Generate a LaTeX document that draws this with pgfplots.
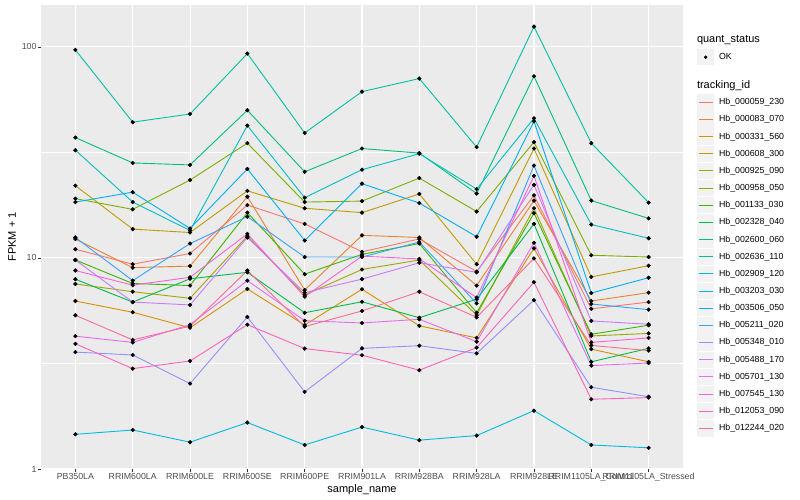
\documentclass[border=0pt]{standalone}
\usepackage{fontspec}
\setmainfont{Liberation Sans}
\usepackage{pgfplots}
\usepackage{pgfplotstable}
\pgfplotsset{compat=1.18}
\definecolor{ggbg}{HTML}{EBEBEB}
\definecolor{ggkey}{HTML}{F2F2F2}
\definecolor{ggtick}{HTML}{4D4D4D}
\definecolor{c1}{HTML}{F8766D}
\definecolor{c2}{HTML}{EA8331}
\definecolor{c3}{HTML}{D89000}
\definecolor{c4}{HTML}{C09B00}
\definecolor{c5}{HTML}{A3A500}
\definecolor{c6}{HTML}{7CAE00}
\definecolor{c7}{HTML}{39B600}
\definecolor{c8}{HTML}{00BB4E}
\definecolor{c9}{HTML}{00BF7D}
\definecolor{c10}{HTML}{00C1A3}
\definecolor{c11}{HTML}{00BFC4}
\definecolor{c12}{HTML}{00BAE0}
\definecolor{c13}{HTML}{00B0F6}
\definecolor{c14}{HTML}{35A2FF}
\definecolor{c15}{HTML}{9590FF}
\definecolor{c16}{HTML}{C77CFF}
\definecolor{c17}{HTML}{E76BF3}
\definecolor{c18}{HTML}{FA62DB}
\definecolor{c19}{HTML}{FF62BC}
\definecolor{c20}{HTML}{FF6C91}
\pgfplotstableread{
x s1 s2 s3 s4 s5 s6 s7 s8 s9 s10 s11 s12 s13 s14 s15 s16 s17 s18 s19 s20
0 11.0 12.3 6.25 22.0 7.53 19.1 9.78 7.93 37.2 96.8 32.4 1.46 18.4 12.5 3.58 9.78 4.26 8.72 3.92 5.35
1 9.34 9.00 5.53 13.7 6.92 17.0 7.57 6.18 28.2 44.0 18.4 1.53 20.5 7.81 3.47 6.18 3.98 7.43 2.99 4.09
2 10.5 9.15 4.67 13.2 6.44 23.4 7.40 7.97 27.6 48.1 13.5 1.34 13.8 11.7 2.54 5.99 4.83 8.10 3.25 4.75
3 17.8 19.5 7.13 20.8 12.7 35.0 16.4 8.55 50.1 93.0 42.4 1.66 26.4 15.7 5.25 12.5 7.81 13.0 4.83 8.72
4 14.5 7.05 4.81 17.2 6.68 18.4 8.38 5.50 25.6 39.1 19.3 1.30 12.1 10.1 2.32 6.85 5.04 6.55 3.72 4.73
5 10.7 12.8 7.11 16.4 8.82 18.6 10.4 6.20 33.0 61.4 26.2 1.58 22.5 10.1 3.73 7.94 4.92 10.2 3.46 5.61
6 12.3 12.5 4.77 20.1 9.78 23.9 11.7 5.21 31.4 70.8 31.2 1.37 18.2 11.9 3.84 9.49 5.12 9.90 2.94 6.92
7 8.62 7.40 4.18 9.34 5.36 16.6 5.50 6.38 20.2 33.5 21.2 1.44 12.6 6.09 3.53 8.55 4.01 6.49 3.76 5.23
8 19.8 18.7 11.1 33.0 17.2 35.4 16.3 14.5 72.6 124.8 45.9 1.89 44.4 27.4 6.31 22.2 11.8 24.5 7.68 9.95
9 5.74 6.25 3.70 8.13 4.27 10.3 4.35 3.22 18.7 35.0 14.4 1.30 6.82 6.05 2.44 5.03 3.09 3.98 2.14 3.85
10 6.18 6.85 3.22 9.19 4.39 10.1 4.80 3.73 15.4 18.3 12.4 1.26 8.06 5.69 2.20 4.85 3.18 4.18 2.18 3.64
}\datatable
\begin{document}
\begin{tikzpicture}[x=1pt,y=1pt]
\useasboundingbox (0,0) rectangle (800,500);
\begin{axis}[
  at={(41pt,31pt)}, anchor=south west,
  scale only axis, width=642pt, height=464pt,
  ymode=log, ymin=1, ymax=158,
  xmin=-0.6, xmax=10.6,
  xtick={0,...,10},
  xticklabels={PB350LA,RRIM600LA,RRIM600LE,RRIM600SE,RRIM600PE,RRIM901LA,RRIM928BA,RRIM928LA,RRIM928LE,RRIM1105LA\_Control,RRIM1105LA\_Stressed},
  ytick={1,10,100}, yticklabels={1,10,100},
  minor ytick={3.1623,31.623},
  xmajorgrids, ymajorgrids, yminorgrids,
  major grid style={white, line width=1.07pt},
  minor grid style={white, line width=0.53pt},
  axis background/.style={fill=ggbg},
  axis line style={draw=none},
  tick align=outside,
  major tick length=2.75pt, minor tick length=0pt,
  tick style={color=black!80, line width=0.5pt},
  xtick pos=bottom, ytick pos=left,
  /pgf/number format/assume math mode=true,
  xticklabel style={font=\fontsize{8.8}{10}\selectfont, text=ggtick, inner sep=0pt, yshift=-1.2pt},
  yticklabel style={font=\fontsize{8.8}{10}\selectfont, text=ggtick, inner sep=0pt, xshift=-1.6pt},
  xlabel={sample\_name},
  ylabel={FPKM + 1},
  xlabel style={font=\fontsize{11}{13}\selectfont, at={(axis description cs:0.5,0)}, anchor=center, yshift=-21pt},
  ylabel style={font=\fontsize{11}{13}\selectfont, at={(axis description cs:0,0.5)}, anchor=center, yshift=29pt},
  legend image code/.code={\fill[ggkey,draw=none] (0pt,-8.2pt) rectangle (17.3pt,8.2pt); \draw[mark=none] (1.7pt,0pt) -- (15.6pt,0pt);},
  legend style={at={(axis description cs:1.0218,0.943)}, anchor=north west, draw=none, fill=none,
    inner sep=0pt, outer sep=0pt, row sep=0pt, column sep=4.7pt,
    font=\fontsize{8.8}{10}\selectfont,
    nodes={inner sep=0pt, anchor=west, minimum height=17.16pt}},
  legend cell align=left,
]
\addlegendimage{empty legend}
\addlegendentry[font=\fontsize{11}{13}\selectfont]{\hspace*{-22pt}quant\_status}
\addlegendimage{legend image code/.code={\fill[ggkey,draw=none] (0pt,-8.2pt) rectangle (17.3pt,8.2pt); \fill[black] (8.65pt,0pt) circle (1.5pt);}}
\addlegendentry{OK}
\addlegendimage{empty legend}
\addlegendentry[minimum height=10.8pt]{}
\addlegendimage{empty legend}
\addlegendentry[font=\fontsize{11}{13}\selectfont]{\hspace*{-22pt}tracking\_id}
\pgfplotsinvokeforeach{1,...,20}{
  \addplot[color=c#1, line width=0.9pt, mark=none] table[x=x,y=s#1]{\datatable};
}
\pgfplotsinvokeforeach{1,...,20}{
  \addplot[only marks, mark=*, mark size=1.9pt, black, forget plot] table[x=x,y=s#1]{\datatable};
}
\addlegendentry{Hb\_000059\_230}
\addlegendentry{Hb\_000083\_070}
\addlegendentry{Hb\_000331\_560}
\addlegendentry{Hb\_000608\_300}
\addlegendentry{Hb\_000925\_090}
\addlegendentry{Hb\_000958\_050}
\addlegendentry{Hb\_001133\_030}
\addlegendentry{Hb\_002328\_040}
\addlegendentry{Hb\_002600\_060}
\addlegendentry{Hb\_002636\_110}
\addlegendentry{Hb\_002909\_120}
\addlegendentry{Hb\_003203\_030}
\addlegendentry{Hb\_003506\_050}
\addlegendentry{Hb\_005211\_020}
\addlegendentry{Hb\_005348\_010}
\addlegendentry{Hb\_005488\_170}
\addlegendentry{Hb\_005701\_130}
\addlegendentry{Hb\_007545\_130}
\addlegendentry{Hb\_012053\_090}
\addlegendentry{Hb\_012244\_020}
\end{axis}
\end{tikzpicture}
\end{document}
